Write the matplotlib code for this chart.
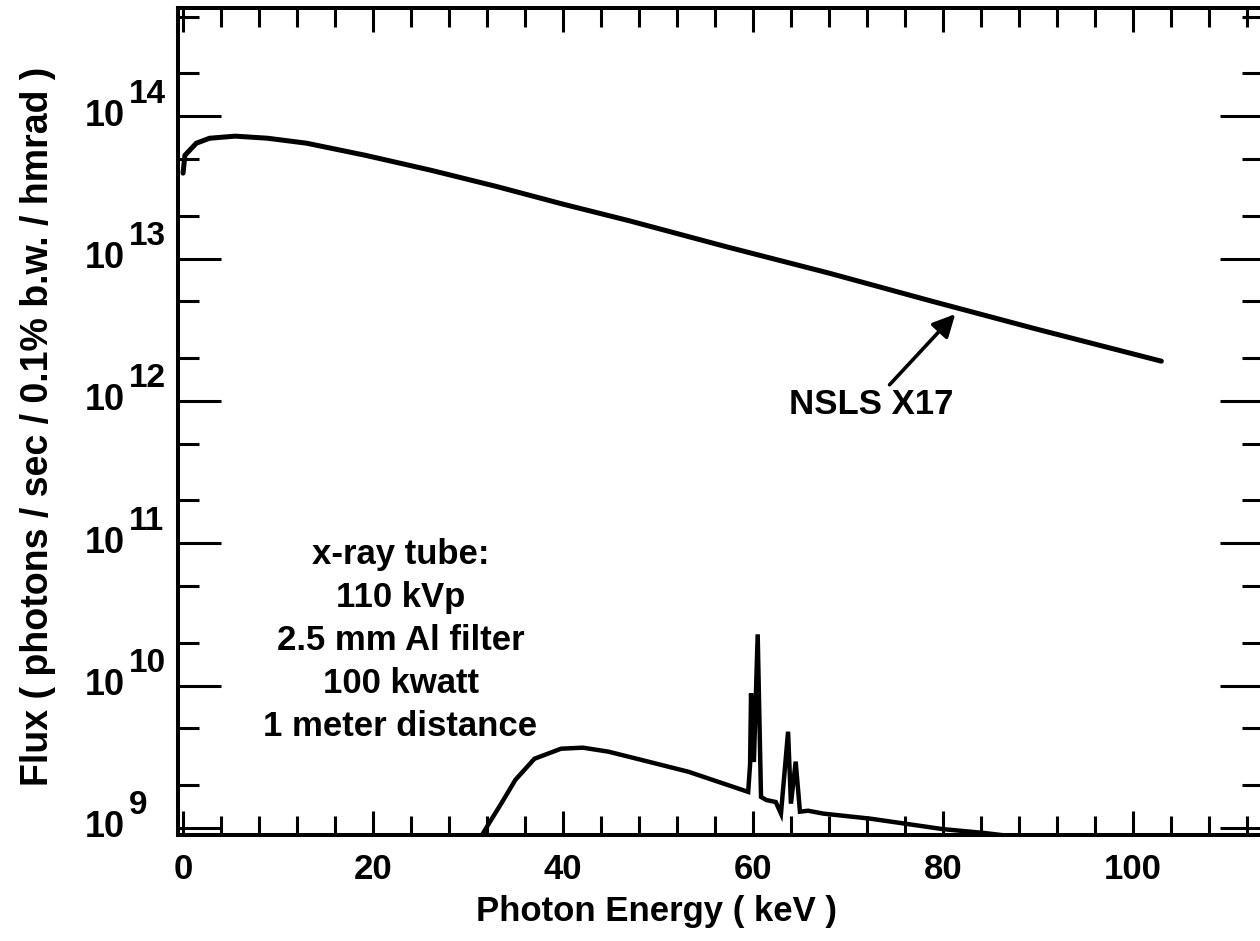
import matplotlib
matplotlib.use('Agg')
import matplotlib.pyplot as plt
import matplotlib.transforms as mtransforms
from matplotlib import font_manager
from matplotlib.ticker import MultipleLocator, LogLocator, NullFormatter

# condensed bold sans, like the original typesetting
names = {f.name for f in font_manager.fontManager.ttflist}
if 'Liberation Sans Narrow' in names:
    plt.rcParams['font.family'] = ['Liberation Sans Narrow', 'DejaVu Sans']
else:
    plt.rcParams['font.family'] = ['Liberation Sans', 'DejaVu Sans']
plt.rcParams['font.weight'] = 'bold'

# NSLS X17 synchrotron spectrum
nsls_kev = [0.0, 0.2, 1.4, 2.8, 5.5, 8.9, 13.0, 19.2, 26.1, 32.9, 39.9,
            47.0, 57.2, 68.0, 78.9, 89.8, 103.0]
nsls_flux = [3.98e13, 5.31e13, 6.46e13, 7.0e13, 7.24e13, 7.0e13, 6.46e13,
             5.31e13, 4.17e13, 3.22e13, 2.42e13, 1.84e13, 1.21e13, 7.9e12,
             5.0e12, 3.2e12, 1.9e12]

# x-ray tube spectrum (110 kVp, W anode lines near 60 keV)
tube_kev = [31.2, 32.3, 33.6, 35.0, 37.0, 39.8, 42.1, 44.8, 48.2, 53.2,
            59.5, 59.7, 59.8, 60.1, 60.5, 60.85, 61.4, 62.4, 62.95, 63.7,
            64.0, 64.5, 64.95, 65.8, 67.4, 72.4, 80.0, 84.4, 86.2, 90.0]
tube_flux = [8.3e8, 1.10e9, 1.52e9, 2.18e9, 3.06e9, 3.60e9, 3.66e9, 3.43e9,
             3.01e9, 2.48e9, 1.79e9, 2.8e9, 8.8e9, 2.9e9, 2.29e10, 1.65e9,
             1.57e9, 1.52e9, 1.26e9, 4.74e9, 1.48e9, 2.92e9, 1.30e9, 1.32e9,
             1.26e9, 1.16e9, 9.8e8, 9.2e8, 8.9e8, 8.5e8]

decades = [9, 10, 11, 12, 13, 14]
tube_note = 'x-ray tube:\n110 kVp\n2.5 mm Al filter\n100 kwatt\n1 meter distance'

W, H = 1260, 941
fig = plt.figure(figsize=(W / 100, H / 100), dpi=100)
ax = fig.add_axes([178 / W, 1 - 835 / H, (1263 - 178) / W, (835 - 8) / H])

ax.plot(nsls_kev, nsls_flux, color='black', lw=3.6, solid_capstyle='round')
ax.plot(tube_kev, tube_flux, color='black', lw=3.2, solid_joinstyle='miter')

ax.set_yscale('log')
ax.set_xlim(-0.53, 113.7)
ax.set_ylim(10 ** 8.95, 10 ** 14.76)

for s in ax.spines.values():
    s.set_linewidth(2.9)

ax.xaxis.set_major_locator(MultipleLocator(20))
ax.xaxis.set_minor_locator(MultipleLocator(4))
ax.yaxis.set_major_locator(LogLocator(base=10, numticks=20))
ax.yaxis.set_minor_locator(LogLocator(base=10, subs=(2.0, 5.0), numticks=20))
ax.yaxis.set_major_formatter(NullFormatter())
ax.yaxis.set_minor_formatter(NullFormatter())

ax.tick_params(axis='x', which='both', direction='in', top=True, bottom=True,
               width=2.2, labelsize=25, pad=13)
ax.tick_params(axis='x', which='major', length=17)
ax.tick_params(axis='x', which='minor', length=14)
ax.tick_params(axis='y', which='both', direction='in', left=True, right=True,
               width=2.2, labelleft=False)
ax.tick_params(axis='y', which='major', length=31)
ax.tick_params(axis='y', which='minor', length=15)

# y labels drawn as "10" with a raised exponent
trans = mtransforms.blended_transform_factory(fig.transFigure, ax.transData)
trans_up = mtransforms.offset_copy(trans, fig=fig, x=0, y=22, units='dots')
for e in decades:
    ax.text(125 / W, 10 ** e, '10', transform=trans, ha='right', va='center',
            fontsize=26, clip_on=False)
    ax.text(129 / W, 10 ** e, str(e), transform=trans_up, ha='left',
            va='center', fontsize=24, clip_on=False)

ax.annotate('NSLS X17', xy=(81.3, 4.07e12), xytext=(72.5, 9.5e11),
            ha='center', va='center', fontsize=25,
            arrowprops=dict(arrowstyle='-|>', lw=2.6, color='black',
                            mutation_scale=34, shrinkA=0, shrinkB=0))

ax.text(22.9, 2.07e10, tube_note, ha='center', va='center', fontsize=25,
        linespacing=1.38)

fig.text(657 / W, 1 - 912 / H, 'Photon Energy ( keV )', ha='center',
         va='center', fontsize=25)
fig.text(38 / W, 1 - 426 / H, 'Flux ( photons / sec / 0.1% b.w. / hmrad )',
         ha='center', va='center', rotation=90, fontsize=27)

fig.savefig('out.png', dpi=100)
